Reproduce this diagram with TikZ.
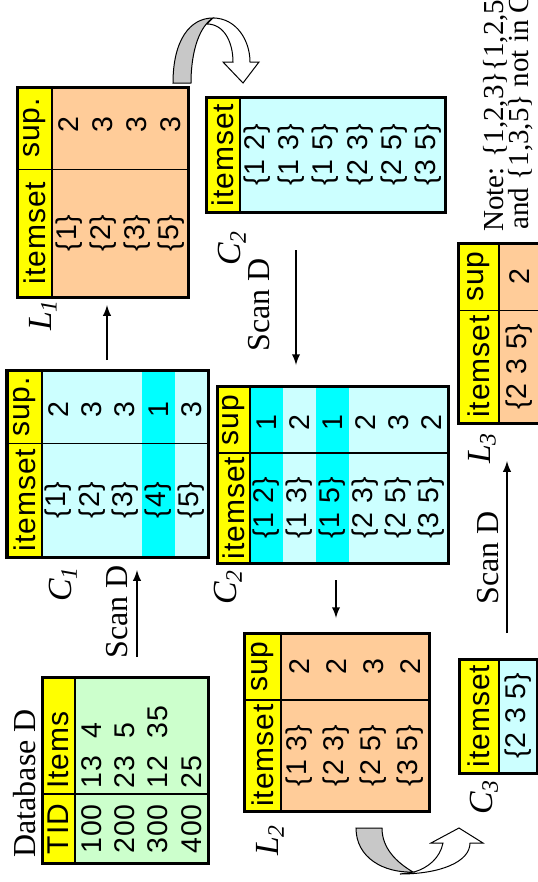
\documentclass[tikz,border=0pt]{standalone}
\usepackage{fontspec}
\setmainfont{Liberation Serif}
\newfontfamily\arialfont[LetterSpace=3]{Liberation Sans}
\usetikzlibrary{arrows}

\definecolor{hdryellow}{HTML}{FFFF00}
\definecolor{dbgreen}{HTML}{CCFFCC}
\definecolor{candcyan}{HTML}{CCFFFF}
\definecolor{prunecyan}{HTML}{00FFFF}
\definecolor{freqpeach}{HTML}{FFCC99}
\definecolor{turngray}{HTML}{C8C8C8}

\begin{document}
\begin{tikzpicture}[x=0.4pt, y=-0.4pt,
  frame/.style={line width=1.2pt},
  rule/.style={line width=1pt},
  hair/.style={line width=0.4pt},
  cell/.style={rotate=90, inner sep=0pt, font=\arialfont\fontsize{11.4}{13}\selectfont},
  head/.style={rotate=90, inner sep=0pt, font=\arialfont\fontsize{12}{14}\selectfont},
  lbl/.style={rotate=90, inner sep=0pt, font=\fontsize{13.5}{15}\selectfont\itshape},
  scan/.style={rotate=90, inner sep=0pt, font=\fontsize{12.8}{15}\selectfont},
  note/.style={rotate=90, inner sep=0pt, font=\fontsize{11.6}{10}\selectfont},
  flow/.style={->, >=latex, line width=0.5pt}]

  \useasboundingbox (0,0) rectangle (538,882);
  \begin{scope}
  \clip (0,0) rectangle (538,882);

  % Database D
  \node[scan, anchor=base west] (dbtitle) at (35,858) {Database D};
  \fill[dbgreen] (42,677) rectangle (208,863);
  \fill[hdryellow] (42,677) rectangle (75,863);
  \draw[rule] (75,677) -- (75,863);
  \draw[rule] (42,794) -- (208,794);
  \draw[frame] (42,677) rectangle (208,863);
  \node[head] (db-tid) at (58.5,829) {TID};
  \node[head, anchor=west] (db-items) at (58.5,789) {Items};
  \foreach \x/\tid/\its [count=\i] in {91.6/100/{13\ \ 4}, 124.9/200/{23\ \ 5},
      158.1/300/{12\ \ 35}, 191.4/400/{25}} {
    \node[cell] (db-t\i) at (\x,829) {\tid};
    \node[cell, anchor=west] (db-i\i) at (\x,789) {\its};
  }

  % C1
  \fill[candcyan] (7,370) rectangle (208,557);
  \fill[prunecyan] (141.6,370) rectangle (174.8,557);
  \fill[hdryellow] (7,370) rectangle (42,557);
  \draw[rule] (42,370) -- (42,557);
  \draw[hair] (7,443) -- (208,443);
  \draw[frame] (7,370) rectangle (208,557);
  \node[head] (c1-set) at (24.5,500) {itemset};
  \node[head] (c1-sup) at (24.5,407) {sup.};
  \foreach \x/\set/\sup [count=\i] in {58.6/1/2, 91.8/2/3, 125/3/3, 158.2/4/1, 191.4/5/3} {
    \node[cell] (c1-s\i) at (\x,500) {\{\set\}};
    \node[cell] (c1-n\i) at (\x,410) {\sup};
  }
  \node[lbl] (c1-name) at (63,584) {C\textsubscript{1}};

  % L1
  \fill[freqpeach] (17,87) rectangle (188,297);
  \fill[hdryellow] (17,87) rectangle (52,297);
  \draw[rule] (52,87) -- (52,297);
  \draw[hair] (17,169) -- (188,169);
  \draw[frame] (17,87) rectangle (188,297);
  \node[head] (l1-set) at (34.5,233) {itemset};
  \node[head] (l1-sup) at (34.5,128) {sup.};
  \foreach \x/\set/\sup [count=\i] in {69/1/2, 103/2/3, 137/3/3, 171/5/3} {
    \node[cell] (l1-s\i) at (\x,233) {\{\set\}};
    \node[cell] (l1-n\i) at (\x,125) {\sup};
  }
  \node[lbl] (l1-name) at (43,315) {L\textsubscript{1}};

  % C2 (generated)
  \fill[candcyan] (206,97) rectangle (445,212);
  \fill[hdryellow] (206,97) rectangle (240,212);
  \draw[rule] (240,97) -- (240,212);
  \draw[frame] (206,97) rectangle (445,212);
  \node[head] (c2g-set) at (223,155) {itemset};
  \foreach \x/\set [count=\i] in {257.1/1 2, 291.3/1 3, 325.5/1 5, 359.7/2 3, 393.9/2 5, 428.1/3 5} {
    \node[cell] (c2g-s\i) at (\x,155) {\{\set\}};
  }
  \node[lbl] (c2g-name) at (232,248) {C\textsubscript{2}};

  % C2 (counted)
  \fill[candcyan] (217,386) rectangle (448,563);
  \fill[prunecyan] (250,386) rectangle (283,563);
  \fill[prunecyan] (316,386) rectangle (349,563);
  \fill[hdryellow] (217,386) rectangle (250,563);
  \draw[rule] (250,386) -- (250,563);
  \draw[rule] (217,453) -- (448,453);
  \draw[frame] (217,386) rectangle (448,563);
  \node[head] (c2-set) at (233.5,508) {itemset};
  \node[head] (c2-sup) at (233.5,420) {sup};
  \foreach \x/\set/\sup [count=\i] in {266.5/1 2/1, 299.5/1 3/2, 332.5/1 5/1,
      365.5/2 3/2, 398.5/2 5/3, 431.5/3 5/2} {
    \node[cell] (c2-s\i) at (\x,508) {\{\set\}};
    \node[cell] (c2-n\i) at (\x,423) {\sup};
  }
  \node[lbl] (c2-name) at (228,587) {C\textsubscript{2}};

  % L2
  \fill[freqpeach] (244,633) rectangle (429,811);
  \fill[hdryellow] (244,633) rectangle (281,811);
  \draw[rule] (281,633) -- (281,811);
  \draw[rule] (244,700) -- (429,700);
  \draw[frame] (244,633) rectangle (429,811);
  \node[head] (l2-set) at (262.5,755.5) {itemset};
  \node[head] (l2-sup) at (262.5,666.5) {sup};
  \foreach \x/\set/\sup [count=\i] in {299.5/1 3/2, 336.5/2 3/2, 373.5/2 5/3, 410.5/3 5/2} {
    \node[cell] (l2-s\i) at (\x,755.5) {\{\set\}};
    \node[cell] (l2-n\i) at (\x,667) {\sup};
  }
  \node[lbl] (l2-name) at (270,840) {L\textsubscript{2}};

  % C3
  \fill[candcyan] (459,659) rectangle (537,773);
  \fill[hdryellow] (459,659) rectangle (499,773);
  \draw[rule] (499,659) -- (499,773);
  \draw[frame] (459,659) rectangle (537,773);
  \node[head] (c3-set) at (479,716) {itemset};
  \node[cell] (c3-s1) at (518,716) {\{2 3 5\}};
  \node[lbl] (c3-name) at (484,797) {C\textsubscript{3}};

  % L3
  \fill[freqpeach] (458,243) rectangle (541,423);
  \fill[hdryellow] (458,243) rectangle (499,423);
  \draw[rule] (499,243) -- (499,423);
  \draw[hair] (458,310) -- (541,310);
  \draw[frame] (458,243) rectangle (541,423);
  \node[head] (l3-set) at (478.5,366.5) {itemset};
  \node[head] (l3-sup) at (478.5,276.5) {sup};
  \node[cell] (l3-s1) at (519,366.5) {\{2 3 5\}};
  \node[cell] (l3-n1) at (520,276.5) {2};
  \node[lbl] (l3-name) at (482,448) {L\textsubscript{3}};

  % scans and steps
  \coordinate (s1a) at (137,657); \coordinate (s1b) at (137,570);
  \coordinate (j1a) at (107,360); \coordinate (j1b) at (107,305);
  \coordinate (s2a) at (296,250); \coordinate (s2b) at (296,365);
  \coordinate (j2a) at (336,580); \coordinate (j2b) at (336,618);
  \coordinate (s3a) at (507,633); \coordinate (s3b) at (507,461);
  \draw[flow] (s1a) -- (s1b);
  \draw[flow] (j1a) -- (j1b);
  \draw[flow] (s2a) -- (s2b);
  \draw[flow] (j2a) -- (j2b);
  \draw[flow] (s3a) -- (s3b);
  \node[scan] (scan1) at (117,612) {Scan D};
  \node[scan] (scan2) at (259,305) {Scan D};
  \node[scan] (scan3) at (488,558) {Scan D};

  % curved arrows
  \filldraw[fill=turngray, hair] (173,83) .. controls (173,40) and (190,18) .. (213,18)
    .. controls (200,26) and (191,50) .. (191,83) -- cycle;
  \filldraw[fill=white, hair] (213,18) .. controls (236,18) and (250,40) .. (250,62)
    -- (259,62) -- (243,83) -- (223,62) -- (233,62)
    .. controls (233,42) and (224,24) .. (207,24) -- cycle;
  \filldraw[fill=turngray, hair] (356,828) .. controls (356,858) and (384,873) .. (413,872)
    .. controls (396,862) and (382,848) .. (382,828) -- cycle;
  \filldraw[fill=white, hair] (400,874) .. controls (440,874) and (470,862) .. (470,843)
    -- (483,843) -- (459,828) -- (431,843) -- (443,843)
    .. controls (440,858) and (428,868) .. (414,872) -- cycle;

  % note
  \node[note, anchor=base west] (note1) at (503,232) {Note: \{1,2,3\}\{1,2,5\}};
  \node[note, anchor=base west] (note2) at (528,230) {and \{1,3,5\} not in C\textsubscript{3}};
  \end{scope}
\end{tikzpicture}
\end{document}
